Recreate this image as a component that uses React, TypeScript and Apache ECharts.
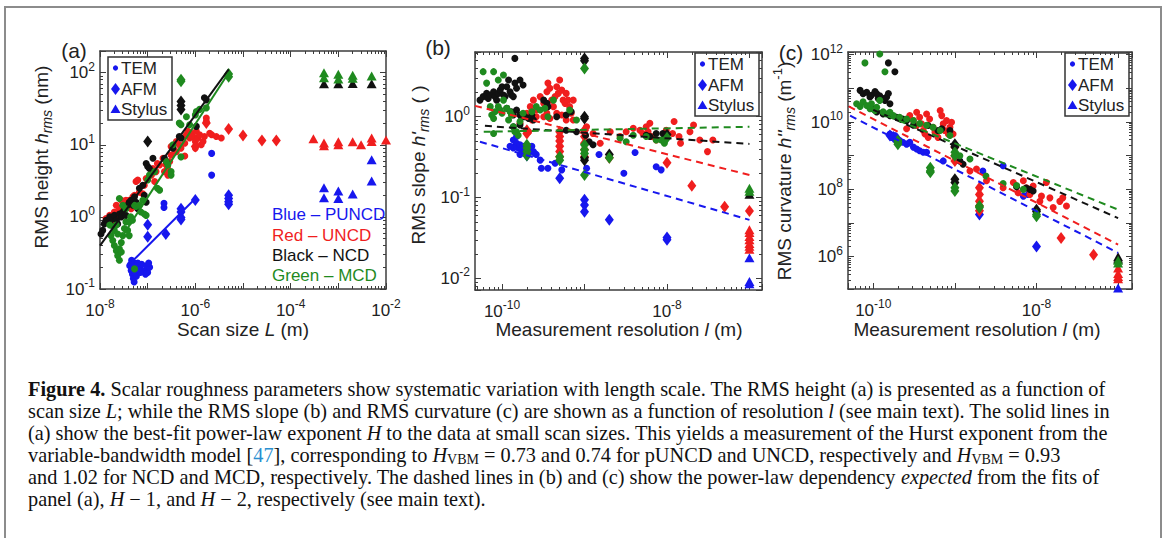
import React, { useEffect, useRef } from 'react';
import * as echarts from 'echarts';

// ---------------- Panel (a): RMS height h_rms (nm) vs scan size L (m) ----------------
const aBlueTEM = [[4.2e-8,0.21],[4.5e-8,0.18],[4.8e-8,0.16],[5e-8,0.14],[5e-8,0.2],[5.3e-8,0.23],[5.5e-8,0.17],[5.8e-8,0.15],[6e-8,0.21],[6.5e-8,0.19],[4.6e-8,0.25],[5.2e-8,0.125],[6.8e-8,0.2],[7.5e-8,0.22],[8.5e-8,0.18],[9.5e-8,0.21],[1e-7,0.17],[1.1e-7,0.2],[1.05e-7,0.23],[9e-8,0.16],[4.4e-8,0.22],[5.6e-8,0.19],[6.2e-8,0.23],[7e-8,0.17],[2.2e-7,1.55],[2.2e-7,1.35],[2.2e-6,7.6],[2.2e-6,3.8]];
const aBlueAFM = [[1e-7,0.78],[1e-7,0.53],[2.4e-7,0.58],[5e-7,1.3],[5e-7,1.17],[5e-7,0.98],[5e-7,0.92],[1e-6,1.71],[5e-6,2.0],[5e-6,1.8],[5e-6,1.62],[5e-6,1.5]];
const aBlueStylus = [[5e-4,2.54],[5e-4,1.84],[1e-3,2.28],[1e-3,1.8],[2e-3,2.07],[5e-3,6.2],[5e-3,3.15]];
const aRedTEM = [[1.34e-8,0.95],[1.6e-8,1.05],[1.7e-8,0.85],[2e-8,1.17],[2.2e-8,1.45],[2.35e-8,1.0],[2.55e-8,1.3],[2.8e-8,1.7],[3e-8,1.17],[3.25e-8,1.45],[3.5e-8,1.7],[3.8e-8,1.45],[4.1e-8,1.7],[4.5e-8,1.3],[4.9e-8,1.9],[5.3e-8,2.0],[5.7e-8,3.1],[6.2e-8,3.25],[6.7e-8,2.2],[7.9e-8,2.1],[8.5e-8,2.75],[9.3e-8,3.4],[1.2e-7,3.8],[1.29e-7,4.7],[1.5e-7,4.25],[1.6e-7,5.5],[1.78e-7,5.25],[2.1e-7,6.5],[2.25e-7,4.25],[2.45e-7,5.25],[2.65e-7,3.8],[2.9e-7,5.85],[3.1e-7,7.2],[3.4e-7,9.0],[4e-7,11.1],[4.6e-7,10],[5e-7,9],[5.5e-7,12.4],[6e-7,10.5],[6.5e-7,13.8],[7e-7,15.4],[7.6e-7,12.4],[8.2e-7,14.5],[8.9e-7,13],[1e-6,11.1],[1e-6,9],[1.05e-6,15.4],[1.13e-6,12.4],[1.23e-6,13.8],[1.33e-6,10],[1.45e-6,11.1],[1.55e-6,13],[1.7e-6,23.5],[1.7e-6,21],[2e-6,14.5],[2.2e-6,13.8],[2.75e-6,13],[3.5e-6,12.4],[3.1e-7,9.5],[4e-7,8],[6e-7,7],[2.6e-7,4.8],[1.4e-7,3.1]];
const aRedAFM = [[1.7e-6,20],[5e-6,16.5],[1e-5,13.5],[2.5e-5,11.5],[5e-5,11.5],[1e-6,9.5]];
const aRedStylus = [[3e-4,12.1],[5e-4,10.6],[5e-4,9.7],[1e-3,11],[1e-3,10],[2e-3,11],[3e-3,10],[5e-3,12.4],[5e-3,11.1],[1e-2,11.7]];
const aBlackTEM = [[1.05e-8,0.58],[1.14e-8,0.65],[1.23e-8,0.8],[1.34e-8,0.9],[1.45e-8,0.85],[1.6e-8,1.0],[1.7e-8,0.77],[1.85e-8,0.95],[2e-8,1.05],[2.2e-8,0.9],[2.35e-8,0.8],[2.55e-8,1.1],[2.8e-8,1.0],[3e-8,1.17],[3.25e-8,1.3],[3.5e-8,1.05],[3.8e-8,1.45],[4.1e-8,1.6],[4.5e-8,1.7],[4.9e-8,1.45],[5.3e-8,1.9],[5.7e-8,1.6],[6.2e-8,1.3],[6.7e-8,2.5],[7.9e-8,2.75],[8.5e-8,2.0],[9.3e-8,1.6],[9.3e-8,5.5],[1e-7,5.0],[1.09e-7,4.7],[1.29e-7,6.5],[2.25e-7,6.5],[2.45e-7,5.85],[3.4e-7,9],[4.6e-7,13],[5e-7,12.4],[1.05e-6,18],[1.55e-6,45],[1.7e-6,42]];
const aBlackAFM = [[1e-7,11.1],[5e-7,40],[5e-7,35],[5e-7,31]];
const aBlackStylus = [[5e-4,70],[1e-3,70],[2e-3,71],[5e-3,70]];
const aGreenTEM = [[1.6e-8,0.77],[1.7e-8,0.55],[1.85e-8,0.47],[2e-8,0.65],[2e-8,0.4],[2.2e-8,0.77],[2.2e-8,0.34],[2.35e-8,0.58],[2.35e-8,0.29],[2.55e-8,0.36],[2.55e-8,0.25],[2.8e-8,0.44],[2.8e-8,0.325],[3e-8,0.55],[3.25e-8,0.69],[3.5e-8,0.85],[3.8e-8,0.65],[4.1e-8,0.55],[2.55e-8,1.8],[3e-8,1.45],[3.5e-8,1.3],[4.1e-8,0.85],[4.4e-8,1.0],[4.8e-8,0.9],[5.3e-8,1.45],[5.7e-8,1.4],[6.7e-8,1.45],[7.2e-8,1.17],[7.9e-8,1.7],[8.5e-8,1.1],[9.3e-8,1.05],[5.3e-8,0.19],[1e-7,3.25],[1.09e-7,3.8],[1.4e-7,4.25],[1.6e-7,2.5],[1.78e-7,2.35],[2.45e-7,5.85],[2.65e-7,5.25],[3.1e-7,4.25],[3.1e-7,3.8],[3.4e-7,10],[4.6e-7,20],[5e-7,19],[5e-7,6.8],[6.5e-7,24.5],[7.6e-7,19],[1e-6,26],[1.05e-6,29],[1.23e-6,31],[1.7e-6,32.5]];
const aGreenAFM = [[5e-7,80],[5e-7,76],[5e-6,96],[5e-6,88]];
const aGreenStylus = [[5e-4,100],[5e-4,85],[1e-3,95],[1e-3,82],[2e-3,92],[2e-3,84],[5e-3,90]];
const aFitBlue = [[5e-8,0.25],[1e-6,1.8]];
const aFitBlack = [[1e-8,0.4],[5e-6,111]];
const aFitGreen = [[3e-8,0.55],[5e-6,100]];

// ---------------- Panel (b): RMS slope vs measurement resolution l (m) ----------------
const bBlueTEM = [[1.37e-10,0.515],[1.43e-10,0.43],[1.5e-10,0.47],[1.57e-10,0.41],[1.65e-10,0.45],[1.72e-10,0.39],[1.8e-10,0.43],[1.9e-10,0.37],[2e-10,0.41],[2.1e-10,0.35],[2.2e-10,0.39],[2.3e-10,0.43],[2.4e-10,0.37],[2.5e-10,0.35],[2.6e-10,0.34],[1.65e-10,0.34],[1.5e-10,0.57],[1.37e-10,0.41],[1.25e-10,0.43],[2.9e-10,0.29],[3e-10,0.23],[3.6e-10,0.23],[4.4e-10,0.265],[5.3e-10,0.22],[1.06e-9,0.23],[1.5e-9,0.34],[3e-9,0.2],[4.1e-9,0.36],[7.4e-9,0.24],[8.5e-9,0.22]];
const bBlueAFM = [[2e-10,0.4],[2e-10,0.36],[2e-10,0.33],[5e-10,0.173],[1e-9,0.094],[1e-9,0.081],[1e-9,0.067],[2e-9,0.053],[1e-8,0.032],[1e-8,0.03]];
const bBlueStylus = [[1e-7,0.018],[1e-7,0.0092],[1e-7,0.0086]];
const bRedTEM = [[2e-10,1.1],[2.2e-10,1.33],[2.4e-10,1.6],[2.6e-10,1.21],[2.9e-10,1.77],[3.2e-10,1.46],[3.5e-10,2.03],[3.6e-10,2.6],[3.8e-10,2.24],[4e-10,1.6],[4.2e-10,1.33],[4.4e-10,1.77],[4.6e-10,2.34],[4.8e-10,1.94],[5e-10,2.84],[5.3e-10,2.13],[5.5e-10,1.6],[5.8e-10,1.46],[6e-10,1.94],[6.3e-10,1.6],[6.6e-10,1.33],[6.9e-10,1.1],[7.3e-10,1.6],[4.6e-10,1.1],[3.5e-10,1.1],[3.2e-10,1.0],[3.8e-10,0.95],[5.3e-10,1.05],[6e-10,0.91],[7.3e-10,0.91],[2.3e-10,0.91],[2.6e-10,1.0],[1.65e-10,0.83],[2.1e-10,0.65],[1.06e-9,0.75],[1.27e-9,0.62],[1.55e-9,0.47],[2.05e-9,0.65],[2.7e-9,0.57],[3.2e-9,0.65],[3.9e-9,0.72],[4.7e-9,0.68],[5.1e-9,0.62],[5.6e-9,0.75],[5.9e-9,0.65],[6.2e-9,0.83],[6.5e-9,0.57],[7.4e-9,0.515],[9.8e-9,0.68],[1.17e-8,0.62],[1.22e-8,0.87],[1.4e-8,0.57],[1.46e-8,0.47],[1.9e-8,0.65],[2.1e-8,0.79],[2.5e-8,0.515],[3.1e-8,0.37],[3.6e-8,0.515]];
const bRedAFM = [[2e-10,0.68],[2e-10,0.62],[5e-10,0.65],[5e-10,0.57],[5e-10,0.5],[5e-10,0.43],[5e-10,0.37],[5e-10,0.32],[1e-9,0.68],[1e-9,0.57],[1e-9,0.47],[1e-9,0.39],[1e-9,0.32],[2e-9,0.31],[1e-8,0.27],[2e-8,0.14],[5e-8,0.077],[1e-7,0.068]];
const bRedStylus = [[1e-7,0.04],[1e-7,0.037],[1e-7,0.033],[1e-7,0.03],[1e-7,0.027],[1e-7,0.025],[1e-7,0.023]];
const bBlackTEM = [[5.4e-11,1.6],[5.9e-11,1.77],[6.5e-11,1.94],[6.8e-11,1.68],[7.2e-11,1.85],[7.9e-11,2.03],[8.2e-11,1.77],[8.6e-11,1.6],[9e-11,1.94],[9.5e-11,2.13],[1e-10,2.34],[1.04e-10,1.85],[1.09e-10,1.77],[1.14e-10,2.34],[1.2e-10,2.84],[1.25e-10,2.03],[1.3e-10,1.85],[1.37e-10,1.77],[1.43e-10,2.6],[1.5e-10,2.24],[1.65e-10,2.84],[1.8e-10,2.46],[1.43e-10,5.25],[1.14e-10,1.27],[1.3e-10,1.15],[1.37e-10,1.05],[1.5e-10,1.21],[1.65e-10,1.05],[1.72e-10,0.98],[1.9e-10,1.0],[2.1e-10,0.95],[2.3e-10,1.05],[2.4e-10,0.91],[1.65e-10,0.79],[1.37e-10,0.75],[3.2e-10,1.6],[3.5e-10,1.46],[3.6e-10,1.33],[4.6e-10,1.0],[6e-10,1.05],[6.9e-10,1.15],[6e-10,0.68],[8e-10,0.65],[1.03e-9,0.59],[1.14e-9,0.49],[1.27e-9,0.45],[5.6e-9,0.59],[6.2e-9,0.57],[7.4e-9,0.62],[8.9e-9,0.62],[9.3e-9,0.57]];
const bBlackAFM = [[1e-9,5.25],[1e-9,4.9],[1e-9,1.0],[1e-9,0.95],[1e-9,0.31],[1e-9,0.29],[2e-9,0.34],[1e-8,0.6]];
const bBlackStylus = [[1e-7,0.11]];
const bGreenTEM = [[5.9e-11,3.6],[7.9e-11,3.6],[9e-11,2.84],[1.04e-10,3.27],[6.5e-11,2.6],[7.2e-11,1.33],[7.5e-11,1.05],[7.9e-11,0.95],[8.2e-11,1.15],[9e-11,1.33],[9.5e-11,1.21],[1e-10,1.1],[1.04e-10,1.6],[1.14e-10,1.27],[1.2e-10,0.91],[1.25e-10,1.15],[1.37e-10,0.75],[1.43e-10,0.65],[1.5e-10,0.65],[1.3e-10,1.05],[1.65e-10,0.87],[1.8e-10,1.1],[1.57e-10,0.59],[7.9e-11,0.62],[2.3e-10,1.15],[2.6e-10,1.33],[2.9e-10,1.21],[3.3e-10,1.27],[3.6e-10,1.0],[4.2e-10,1.6],[6.6e-10,1.21],[8e-10,0.91],[2.7e-9,0.54],[3.2e-9,0.49],[3.9e-9,0.59],[5.6e-9,0.57],[7.4e-9,0.515],[8.5e-9,0.515],[9.3e-9,0.47]];
const bGreenAFM = [[2e-10,0.45],[2e-10,0.41],[2e-10,0.37],[2e-10,0.33],[5e-10,0.32],[5e-10,0.29],[1e-9,3.95],[1e-9,0.45],[1e-9,0.39],[1e-9,0.35],[1e-9,0.19],[2e-9,0.31],[1e-8,0.55]];
const bGreenStylus = [[1e-7,0.13],[1e-7,0.12]];
const bExpBlue = [[5.4e-11,0.49],[1e-7,0.053]];
const bExpRed = [[4.7e-11,1.36],[1e-7,0.19]];
const bExpBlack = [[6.2e-11,0.77],[1e-7,0.46]];
const bExpGreen = [[6e-11,0.65],[1e-7,0.75]];

// ---------------- Panel (c): RMS curvature (1/m) vs measurement resolution l (m) ----------------
const cBlueTEM = [[1.6e-10,4.4e9],[1.68e-10,3.5e9],[1.84e-10,4e9],[1.93e-10,3.15e9],[2.1e-10,2.8e9],[2.3e-10,2.5e9],[2.56e-10,2.2e9],[2.8e-10,2.5e9],[3.1e-10,1.8e9],[3.4e-10,1.58e9],[3.7e-10,1.4e9],[4.1e-10,1.26e9],[4.5e-10,1.26e9],[7.2e-10,7e8],[1.15e-9,7e8],[2.2e-9,3.5e8],[3.9e-9,5e8],[6.9e-9,6.3e7],[7.9e-9,7e7]];
const cBlueAFM = [[1.6e-10,4e9],[1.76e-10,3.6e9],[2e-10,3e9],[2e-9,1.8e7],[1e-8,2e6]];
const cBlueStylus = [[1e-7,1.17e5]];
const cRedTEM = [[2.8e-10,1.55e10],[3.1e-10,1.1e10],[3.4e-10,1.95e10],[3.7e-10,1.38e10],[3.9e-10,8.8e9],[4.1e-10,5.6e9],[4.5e-10,1.74e10],[4.9e-10,1.23e10],[5.4e-10,7e9],[6e-10,5e9],[6.2e-10,3.5e9],[6.6e-10,2.2e10],[6.9e-10,1.55e10],[7.2e-10,8.8e9],[7.5e-10,5.6e9],[7.9e-10,1.1e10],[8.3e-10,4.4e9],[8.7e-10,7e9],[9.1e-10,9.9e9],[9.5e-10,4.4e9],[4.3e-10,4.4e9],[4.7e-10,3.5e9],[5.7e-10,5e9],[3.4e-10,7.9e9],[2.56e-10,6.3e9],[1.53e-9,3.5e8],[1.84e-9,4e8],[2.44e-9,1.8e8],[3.9e-9,1.12e8],[5.2e-9,1.6e8],[5.7e-9,1.26e8],[5.95e-9,7.9e7],[6.9e-9,1.8e8],[7.5e-9,1.12e8],[8.3e-9,7e7],[9.1e-9,1.26e8],[1.1e-8,4.4e7],[1.15e-8,6.3e7],[1.32e-8,1.6e8],[1.46e-8,5.6e7],[1.6e-8,2.9e7],[1.93e-8,4.4e7],[2.1e-8,5.6e7],[2.33e-8,3.2e7]];
const cRedAFM = [[1e-9,1.8e9],[1e-9,1e9],[1e-9,7e8],[2e-9,1.12e8],[2e-9,7e7],[2e-9,4.4e7],[2e-9,3.2e7],[2e-9,2.3e7],[2e-8,3.6e6],[5e-8,1.15e6]];
const cRedStylus = [[1e-7,4.6e5],[1e-7,3.2e5],[1e-7,2.6e5],[1e-7,2.2e5]];
const cBlackTEM = [[6.9e-11,8.7e10],[7.5e-11,6.9e10],[8.3e-11,7.7e10],[9.1e-11,5.5e10],[9.5e-11,6.2e10],[1.05e-10,8e10],[1.1e-10,6.9e10],[1.15e-10,5e10],[1.2e-10,6e10],[1.32e-10,5e10],[1.39e-10,4.4e10],[1.46e-10,5.5e10],[1.53e-10,7e10],[1.6e-10,3.5e10],[1.53e-10,5.7e11],[1.84e-10,3.1e11],[1e-10,2.45e10],[1.1e-10,2e10],[1.32e-10,1.74e10],[1.6e-10,1.55e10],[1.93e-10,1.38e10],[2.3e-10,1.23e10],[2.56e-10,1.1e10],[3.1e-10,8e9],[4.7e-10,7.9e9],[6.2e-10,5.6e9],[6.9e-10,6.3e9],[8.7e-10,5.6e9],[1.15e-9,7e8],[1.26e-9,5.6e8],[5.7e-9,1.2e8],[7.5e-9,1.1e8],[8.3e-9,1e8],[9.1e-9,8.9e7]];
const cBlackAFM = [[1e-9,2.2e9],[1e-9,1.8e9],[1e-9,2e8],[1e-9,1.6e8],[1e-8,2.5e7],[1e-8,2.2e7]];
const cBlackStylus = [[1e-7,1e6],[1e-7,8.5e5]];
const cGreenTEM = [[7.9e-11,5.7e11],[1.2e-10,1.05e12],[1.39e-10,3.1e11],[6.25e-11,3.5e10],[6.9e-11,2.9e10],[7.5e-11,4e10],[8.3e-11,3.1e10],[9.1e-11,2.5e10],[9.5e-11,3.5e10],[1.05e-10,2.2e10],[1.1e-10,2.75e10],[1.2e-10,4.4e10],[1.32e-10,2e10],[1.46e-10,1.74e10],[1.6e-10,1.95e10],[1.76e-10,1.55e10],[2.1e-10,1.38e10],[2.56e-10,1.23e10],[3.1e-10,1.1e10],[3.7e-10,9e9],[4.5e-10,8e9],[5.4e-10,7e9],[6.6e-10,5.6e9],[8.7e-10,4e9],[1.15e-9,1e9],[1.53e-9,8e8],[2.4e-9,2.5e8],[3.9e-9,1.5e8],[5.7e-9,1.3e8],[6.9e-9,1e8]];
const cGreenAFM = [[2e-10,2.8e9],[2e-10,2.5e9],[2e-10,2.2e9],[5e-10,4.4e8],[5e-10,3.5e8],[5e-10,3.2e8],[1e-9,1.26e9],[1e-9,1e9],[1e-9,1.12e8],[1e-9,8.9e7],[2e-9,3.2e7],[2e-9,2.9e7],[1e-8,1.8e7],[1e-8,1.6e7]];
const cGreenStylus = [[1e-7,7.9e5],[1e-7,6.5e5]];
const cExpBlue = [[5.2e-11,1.55e10],[1e-7,1.3e6]];
const cExpRed = [[5e-11,2.9e10],[1e-7,2.3e6]];
const cExpBlack = [[1e-10,2.3e10],[1e-7,1.4e7]];
const cExpGreen = [[1.5e-10,1.5e10],[1e-7,2.5e7]];

// axis ranges
const aXRange = [1e-8, 1e-2];
const aYRange = [0.1, 200];
const bXRange = [4.7e-11, 1.42e-7];
const bYRange = [0.0072, 6.3];
const cXRange = [4.9e-11, 1.48e-7];
const cYRange = [1.1e5, 1.2e12];

const legendNames = ['TEM', 'AFM', 'Stylus'];
const materialNames = ['Blue – PUNCD', 'Red – UNCD', 'Black – NCD', 'Green – MCD'];
const captionLines = [
  '{b|Figure 4.} Scalar roughness parameters show systematic variation with length scale. The RMS height (a) is presented as a function of',
  'scan size {i|L}; while the RMS slope (b) and RMS curvature (c) are shown as a function of resolution {i|l} (see main text). The solid lines in',
  '(a) show the best-fit power-law exponent {i|H} to the data at small scan sizes. This yields a measurement of the Hurst exponent from the',
  'variable-bandwidth model [{k|47}], corresponding to {i|H}{s|VBM} = 0.73 and 0.74 for pUNCD and UNCD, respectively and {i|H}{s|VBM} = 0.93',
  'and 1.02 for NCD and MCD, respectively. The dashed lines in (b) and (c) show the power-law dependency {i|expected} from the fits of',
  'panel (a), {i|H} − 1, and {i|H} − 2, respectively (see main text).',
];

const BLUE = '#1717ee';
const RED = '#f01e1e';
const BLACK = '#111111';
const GREEN = '#1f8a1f';
const AXIS = '#3c3c3c';
const TXT = '#222222';
const SANS = '"Liberation Sans", Arial, Helvetica, sans-serif';
const SERIF = '"Liberation Serif", "Times New Roman", serif';
const CAP = 20.3;

const SYM: Record<string, { symbol: string; size: any }> = {
  TEM: { symbol: 'circle', size: 7 },
  AFM: { symbol: 'diamond', size: [9, 12] },
  Stylus: { symbol: 'triangle', size: [10, 9] },
};

function decadeFormatter(every: number) {
  return (v: number) => {
    if (!(v > 0)) return '';
    const e = Math.log10(v);
    const r = Math.round(e);
    if (Math.abs(e - r) > 1e-6 || r % every !== 0) return '';
    return `{b|10}{s|${r}}`;
  };
}

const labelRich = {
  b: { fontSize: 17, fontFamily: SANS, color: TXT, lineHeight: 24 },
  s: { fontSize: 12, fontFamily: SANS, color: TXT, lineHeight: 12, verticalAlign: 'top' },
};

function mkAxis(kind: 'x' | 'y', grid: number, range: number[], every: number, main: boolean) {
  return {
    type: 'log',
    logBase: 10,
    gridIndex: grid,
    min: range[0],
    max: range[1],
    position: kind === 'x' ? (main ? 'bottom' : 'top') : main ? 'left' : 'right',
    axisLine: { show: true, onZero: false, lineStyle: { color: AXIS, width: 1.5 } },
    axisTick: { show: true, inside: true, length: 6, lineStyle: { color: AXIS, width: 1 } },
    minorTick: { show: true, splitNumber: 9, length: 3, lineStyle: { color: AXIS, width: 1 } },
    splitLine: { show: false },
    minorSplitLine: { show: false },
    axisLabel: main
      ? { show: true, formatter: decadeFormatter(every), margin: kind === 'x' ? 9 : 5, rich: labelRich, color: TXT }
      : { show: false },
  };
}

function scat(name: string, data: number[][], p: number, color: string, kind: string, z: number) {
  return {
    type: 'scatter', name, data, xAxisIndex: p, yAxisIndex: p,
    symbol: SYM[kind].symbol, symbolSize: SYM[kind].size,
    itemStyle: { color, opacity: 1 }, z, silent: true,
  };
}

function fit(name: string, data: number[][], p: number, color: string, dashed: boolean) {
  return {
    type: 'line', name, data, xAxisIndex: p, yAxisIndex: p, symbol: 'none', z: 6, silent: true,
    lineStyle: { color, width: 2, type: dashed ? [7, 5] : 'solid' },
  };
}

function panelSeries(p: number, tag: string, sets: number[][][]) {
  const colors = [BLUE, RED, BLACK, GREEN];
  const kinds = ['TEM', 'AFM', 'Stylus'];
  const out: any[] = [];
  colors.forEach((c, ci) => {
    kinds.forEach((k, ki) => {
      out.push(scat(`${tag} ${materialNames[ci]} ${k}`, sets[ci * 3 + ki], p, c, k, 2 + ci * 0.1));
    });
  });
  return out;
}

function legendBox(x: number, y: number) {
  const t = (txt: string, ty: number) => ({
    type: 'text', x: 13, y: ty,
    style: { text: txt, fontSize: 17, fontFamily: SANS, fill: TXT, align: 'left', verticalAlign: 'middle', textAlign: 'left', textVerticalAlign: 'middle' },
  });
  return {
    type: 'group', x, y, z: 50,
    children: [
      { type: 'rect', shape: { x: 0, y: 0, width: 64, height: 63 }, style: { fill: '#ffffff', stroke: '#333', lineWidth: 1.5 } },
      { type: 'circle', shape: { cx: 7.5, cy: 11, r: 2.6 }, style: { fill: BLUE } },
      t(legendNames[0], 11),
      { type: 'polygon', shape: { points: [[7.5, 26], [12, 32], [7.5, 38], [3, 32]] }, style: { fill: BLUE } },
      t(legendNames[1], 32),
      { type: 'polygon', shape: { points: [[7.5, 47.5], [12.5, 56], [2.5, 56]] }, style: { fill: BLUE } },
      t(legendNames[2], 52),
    ],
  };
}

const titleRich = {
  i: { fontSize: 19, fontFamily: SANS, fontStyle: 'italic', fill: TXT, lineHeight: 26 },
  sub: { fontSize: 14, fontFamily: SANS, fontStyle: 'italic', fill: TXT, lineHeight: 14, verticalAlign: 'bottom' },
  sup: { fontSize: 13, fontFamily: SANS, fill: TXT, lineHeight: 13, verticalAlign: 'top' },
};

function title(text: string, x: number, y: number, rotate: boolean) {
  return {
    type: 'text', x, y, rotation: rotate ? Math.PI / 2 : 0, z: 40,
    style: {
      text, fontSize: 19, fontFamily: SANS, fill: TXT, lineHeight: 26,
      align: 'center', verticalAlign: 'middle', textAlign: 'center', textVerticalAlign: 'middle',
      rich: titleRich,
    },
  };
}

function plain(text: string, x: number, y: number, size: number, color: string) {
  return {
    type: 'text', x, y, z: 40,
    style: { text, fontSize: size, fontFamily: SANS, fill: color, align: 'left', verticalAlign: 'middle', textAlign: 'left', textVerticalAlign: 'middle' },
  };
}

const capRich = {
  b: { fontFamily: SERIF, fontSize: CAP, fontWeight: 'bold', fill: '#111', lineHeight: 22 },
  i: { fontFamily: SERIF, fontSize: CAP, fontStyle: 'italic', fill: '#111', lineHeight: 22 },
  s: { fontFamily: SERIF, fontSize: 14, fill: '#111', lineHeight: 12, verticalAlign: 'bottom' },
  k: { fontFamily: SERIF, fontSize: CAP, fill: '#2a8fd0', lineHeight: 22 },
};

function buildOption() {
  const series: any[] = [
    ...panelSeries(0, '(a)', [aBlueTEM, aBlueAFM, aBlueStylus, aRedTEM, aRedAFM, aRedStylus, aBlackTEM, aBlackAFM, aBlackStylus, aGreenTEM, aGreenAFM, aGreenStylus]),
    ...panelSeries(1, '(b)', [bBlueTEM, bBlueAFM, bBlueStylus, bRedTEM, bRedAFM, bRedStylus, bBlackTEM, bBlackAFM, bBlackStylus, bGreenTEM, bGreenAFM, bGreenStylus]),
    ...panelSeries(2, '(c)', [cBlueTEM, cBlueAFM, cBlueStylus, cRedTEM, cRedAFM, cRedStylus, cBlackTEM, cBlackAFM, cBlackStylus, cGreenTEM, cGreenAFM, cGreenStylus]),
    fit('(a) fit PUNCD', aFitBlue, 0, BLUE, false),
    fit('(a) fit NCD', aFitBlack, 0, BLACK, false),
    fit('(a) fit MCD', aFitGreen, 0, GREEN, false),
    fit('(b) expected PUNCD', bExpBlue, 1, BLUE, true),
    fit('(b) expected UNCD', bExpRed, 1, RED, true),
    fit('(b) expected NCD', bExpBlack, 1, BLACK, true),
    fit('(b) expected MCD', bExpGreen, 1, GREEN, true),
    fit('(c) expected PUNCD', cExpBlue, 2, BLUE, true),
    fit('(c) expected UNCD', cExpRed, 2, RED, true),
    fit('(c) expected NCD', cExpBlack, 2, BLACK, true),
    fit('(c) expected MCD', cExpGreen, 2, GREEN, true),
  ];

  const graphic: any[] = [
    { type: 'rect', shape: { x: 5, y: 7, width: 1156, height: 545 }, style: { fill: 'none', stroke: '#8c8c8c', lineWidth: 2 }, z: -10, silent: true },
    { type: 'text', x: 74, y: 50, style: { text: '(a)', fontSize: 21, fontFamily: SANS, fill: TXT, align: 'center', verticalAlign: 'middle', textAlign: 'center', textVerticalAlign: 'middle' } },
    { type: 'text', x: 438, y: 47, style: { text: '(b)', fontSize: 21, fontFamily: SANS, fill: TXT, align: 'center', verticalAlign: 'middle', textAlign: 'center', textVerticalAlign: 'middle' } },
    { type: 'text', x: 791, y: 52, style: { text: '(c)', fontSize: 21, fontFamily: SANS, fill: TXT, align: 'center', verticalAlign: 'middle', textAlign: 'center', textVerticalAlign: 'middle' } },
    title('RMS height {i|h}{sub|rms} (nm)', 41, 157, true),
    title("RMS slope {i|h'}{sub|rms} ( )", 418, 165, true),
    title("RMS curvature {i|h''}{sub|rms} (m{sup|-1})", 784, 171, true),
    title('Scan size {i|L} (m)', 243, 329, false),
    title('Measurement resolution {i|l} (m)', 619, 329, false),
    title('Measurement resolution {i|l} (m)', 977, 329, false),
    plain(materialNames[0], 272, 214, 17, BLUE),
    plain(materialNames[1], 272, 235, 17, RED),
    plain(materialNames[2], 272, 255, 17, BLACK),
    plain(materialNames[3], 272, 275, 17, GREEN),
    legendBox(108, 57),
    legendBox(695, 53),
    legendBox(1065, 53),
    ...captionLines.map((line, i) => ({
      type: 'text', x: 28, y: 389 + i * 22, z: 40,
      style: {
        text: line, fontSize: CAP, fontFamily: SERIF, fill: '#111', lineHeight: 22,
        align: 'left', verticalAlign: 'middle', textAlign: 'left', textVerticalAlign: 'middle', rich: capRich,
      },
    })),
  ];

  return {
    animation: false,
    backgroundColor: '#ffffff',
    grid: [
      { left: 100, top: 51, width: 286, height: 238, containLabel: false },
      { left: 475, top: 52, width: 287, height: 238, containLabel: false },
      { left: 848, top: 52, width: 284, height: 237, containLabel: false },
    ],
    xAxis: [
      mkAxis('x', 0, aXRange, 2, true),
      mkAxis('x', 1, bXRange, 2, true),
      mkAxis('x', 2, cXRange, 2, true),
      mkAxis('x', 0, aXRange, 2, false),
      mkAxis('x', 1, bXRange, 2, false),
      mkAxis('x', 2, cXRange, 2, false),
    ],
    yAxis: [
      mkAxis('y', 0, aYRange, 1, true),
      mkAxis('y', 1, bYRange, 1, true),
      mkAxis('y', 2, cYRange, 2, true),
      mkAxis('y', 0, aYRange, 1, false),
      mkAxis('y', 1, bYRange, 1, false),
      mkAxis('y', 2, cYRange, 2, false),
    ],
    series,
    graphic,
  };
}

export default function App() {
  const ref = useRef<HTMLDivElement>(null);
  useEffect(() => {
    if (!ref.current) return;
    const chart = echarts.init(ref.current, null, { renderer: 'svg' });
    chart.setOption(buildOption() as any);
    return () => chart.dispose();
  }, []);
  return (
    <div
      ref={ref}
      style={{ position: 'fixed', left: 0, top: 0, width: 1165, height: 538, background: '#ffffff' }}
    />
  );
}
